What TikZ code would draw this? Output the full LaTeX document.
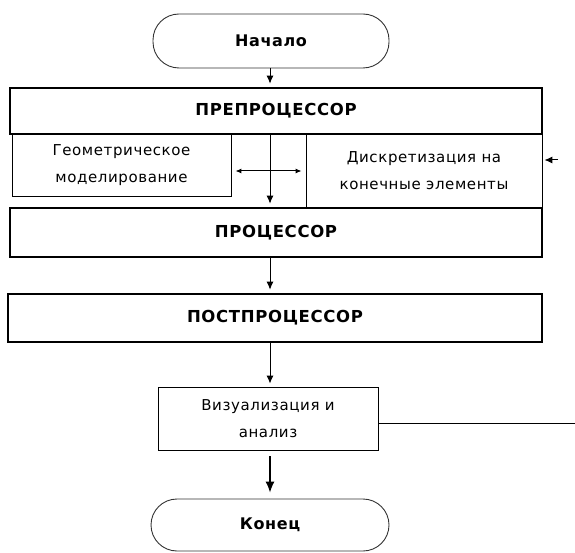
\documentclass[tikz,border=0pt]{standalone}
\usepackage{fontspec}
\setmainfont{DejaVu Sans}[LetterSpace=4]
\usetikzlibrary{arrows.meta}
\begin{document}
\begin{tikzpicture}[x=1pt,y=-1pt,
  thickbox/.style={draw, line width=2.6pt, minimum width=532pt, font=\bfseries\fontsize{16.5}{18}\selectfont, inner sep=0pt},
  thinbox/.style={draw, line width=0.9pt, align=center, font=\fontsize{15}{27}\selectfont, inner sep=0pt},
  term/.style={draw=black!80, line width=0.9pt, rounded corners=26pt, font=\bfseries\fontsize{16}{18}\selectfont, inner sep=0pt},
  arr/.style={line width=1pt, -{Latex[length=8pt,width=7pt]}, shorten >=3pt},
  bigarr/.style={line width=1.2pt, -{Latex[length=11pt,width=9pt]}, shorten >=6pt, shorten <=6pt},
  link/.style={line width=1pt}]
\useasboundingbox (0,0) rectangle (575,553);
\node[term, minimum width=236pt, minimum height=54pt] (start) at (271,41) {Начало};
\node[thickbox, minimum height=46pt] (pre) at (276,111) {ПРЕПРОЦЕССОР};
\node[thinbox, minimum width=219pt, minimum height=62pt] (geo) at (121.5,165) {Геометрическое\\моделирование};
\node[thinbox, minimum width=236pt, minimum height=74pt] (disc) at (424,171) {Дискретизация на\\конечные элементы};
\node[thickbox, minimum height=49pt] (proc) at (276,232.5) {ПРОЦЕССОР};
\node[thickbox, minimum width=534pt, minimum height=48pt] (post) at (275,318) {ПОСТПРОЦЕССОР};
\node[thinbox, minimum width=220pt, minimum height=63pt] (vis) at (268,418.5) {Визуализация и\\анализ};
\node[term, minimum width=238pt, minimum height=52pt] (end) at (270,525) {Конец};
\coordinate (ax) at (270,0);
\coordinate (hy) at (0,171);
\coordinate (fy) at (0,423);
\coordinate (rb) at (576,0);
\coordinate (fb) at (558,160);
\draw[arr] (start.south -| ax) -- (pre.north -| ax);
\draw[arr] (pre.south -| ax) -- (proc.north -| ax);
\draw[link, {Latex[length=6pt,width=5pt]}-{Latex[length=6pt,width=5pt]}, shorten <=4pt, shorten >=4pt] (geo.east |- hy) -- (disc.west |- hy);
\draw[arr] (proc.south -| ax) -- (post.north -| ax);
\draw[arr] (post.south -| ax) -- (vis.north -| ax);
\draw[bigarr] (vis.south -| ax) -- (end.north -| ax);
\draw[link] (vis.east |- fy) -- (rb |- fy);
\draw[arr, shorten >=2pt] (fb) -- (disc.east |- fb);
\end{tikzpicture}
\end{document}
